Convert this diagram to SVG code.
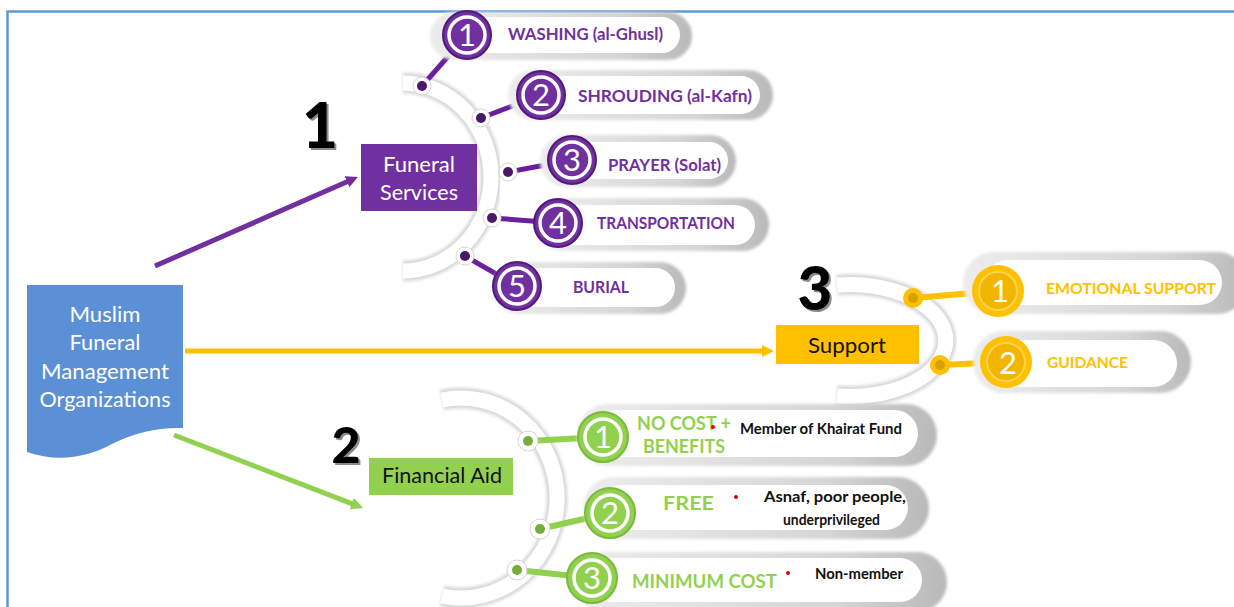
<svg xmlns="http://www.w3.org/2000/svg" width="1234" height="607" viewBox="0 0 1234 607">
<defs>
<linearGradient id="pg" x1="0" y1="0" x2="1" y2="0">
<stop offset="0" stop-color="#ececec"/>
<stop offset="0.7" stop-color="#d6d6d6"/>
<stop offset="1" stop-color="#b9b9b9"/>
</linearGradient>
<filter id="soft" x="-10%" y="-20%" width="120%" height="140%">
<feGaussianBlur stdDeviation="1.5"/>
</filter>
<marker id="ap" markerUnits="userSpaceOnUse" markerWidth="14" markerHeight="14" refX="2" refY="6" orient="auto"><path d="M0,0 L12,6 L0,12 z" fill="#7030A0"/></marker>
<marker id="ay" markerUnits="userSpaceOnUse" markerWidth="14" markerHeight="14" refX="2" refY="6" orient="auto"><path d="M0,0 L12,6 L0,12 z" fill="#FFC000"/></marker>
<marker id="ag" markerUnits="userSpaceOnUse" markerWidth="14" markerHeight="14" refX="2" refY="6" orient="auto"><path d="M0,0 L12,6 L0,12 z" fill="#92D050"/></marker>
</defs>
<style>
.pt{font-family:Lato,"Open Sans","Liberation Sans",sans-serif;font-weight:700;fill:#7030A0;font-size:17px}
.yt{font-family:Lato,"Open Sans","Liberation Sans",sans-serif;font-weight:700;fill:#FFC000;font-size:16px}
.gt{font-family:Lato,"Open Sans","Liberation Sans",sans-serif;font-weight:700;fill:#92D050;font-size:18px}
.bt{font-family:Lato,"Open Sans","Liberation Sans",sans-serif;font-weight:700;fill:#111;font-size:14.5px}
.box{font-family:Lato,"Open Sans","Liberation Sans",sans-serif;font-weight:400;font-size:21px;text-anchor:middle}
.big{font-family:Lato,"Liberation Sans",sans-serif;font-weight:900;text-anchor:middle}
.num{font-family:Lato,"Open Sans","Liberation Sans",sans-serif;font-weight:400;font-size:31px;fill:#fff;text-anchor:middle}
.pg{fill:url(#pg);filter:url(#soft)}
.pw{fill:#fff}
.bandg{fill:none;stroke:#d9d9d9;stroke-width:21;filter:url(#soft)}
.band{fill:none;stroke:#fff;stroke-width:15}
.pc{fill:#7030A0;stroke:#531a7d;stroke-width:2}
.gc{fill:#92D050;stroke:#7cb83c;stroke-width:2}
.ring{fill:none;stroke:#fff;stroke-width:3.5}
.halo{fill:#fff;stroke:#d4d4d4;stroke-width:1}
.red{fill:#e00000}
</style>
<rect width="1234" height="607" fill="#fff"/>
<path d="M7.5,607 V11.5 H1234" fill="none" stroke="#5b9bd5" stroke-width="2.5"/>

<!-- arcs -->
<g id="arcs">
<path class="bandg" d="M403,83 A88,94 0 1 1 403,271"/>
<path class="band" d="M403,83 A88,94 0 1 1 403,271"/>
<path class="bandg" d="M837,285 A96,56 0 1 1 837,396"/>
<path class="band" d="M837,285 A96,56 0 1 1 837,396"/>
<path class="bandg" d="M442,400 A96,100 0 1 1 442,596"/>
<path class="band" d="M442,400 A96,100 0 1 1 442,596"/>
</g>

<!-- connectors -->
<g id="connectors" fill="none">
<line x1="155" y1="266" x2="348.8" y2="181" stroke="#7030A0" stroke-width="5" marker-end="url(#ap)"/>
<line x1="185" y1="351" x2="764" y2="351" stroke="#FFC000" stroke-width="5" marker-end="url(#ay)"/>
<line x1="174" y1="435" x2="353.7" y2="504.4" stroke="#92D050" stroke-width="5" marker-end="url(#ag)"/>
<g stroke="#6a1f9c" stroke-width="5">
<line x1="422" y1="86" x2="467" y2="35"/>
<line x1="481" y1="118" x2="541" y2="95"/>
<line x1="508" y1="172" x2="572" y2="160"/>
<line x1="492" y1="218" x2="558" y2="223"/>
<line x1="465" y1="256" x2="517" y2="286"/>
</g>
<g stroke="#FFC000" stroke-width="6">
<line x1="913" y1="298" x2="998" y2="291"/>
<line x1="940" y1="365" x2="1006" y2="362"/>
</g>
<g stroke="#92D050" stroke-width="6">
<line x1="528" y1="441" x2="603" y2="437"/>
<line x1="540" y1="529" x2="610" y2="513"/>
<line x1="517" y1="570" x2="592" y2="578"/>
</g>
</g>

<!-- main node -->
<g id="muslim-org">
<path d="M27,285 H183 V428 C160,427 135,432 112,444 C88,457 58,463 27,452 Z" fill="#5b8fd6"/>
<text class="box" fill="#fff" x="105" y="322" textLength="71" lengthAdjust="spacingAndGlyphs">Muslim</text>
<text class="box" fill="#fff" x="105" y="350" textLength="71" lengthAdjust="spacingAndGlyphs">Funeral</text>
<text class="box" fill="#fff" x="105" y="379" textLength="128" lengthAdjust="spacingAndGlyphs">Management</text>
<text class="box" fill="#fff" x="105" y="407" textLength="131" lengthAdjust="spacingAndGlyphs">Organizations</text>
</g>

<!-- big numbers -->
<g id="num1"><text class="big" x="322" y="150" font-size="62" fill="#8c8c8c">1</text><text class="big" x="320" y="148" font-size="62" fill="#000">1</text></g>
<g id="num2"><text class="big" x="348" y="465" font-size="50" fill="#8c8c8c">2</text><text class="big" x="346" y="463" font-size="50" fill="#000">2</text></g>
<g id="num3"><text class="big" x="817" y="312" font-size="60" fill="#8c8c8c">3</text><text class="big" x="815" y="310" font-size="60" fill="#000">3</text></g>

<!-- category boxes -->
<g id="funeral-services">
<rect x="361" y="144" width="116" height="67" fill="#7030A0"/>
<text class="box" fill="#fff" x="419" y="172" textLength="72" lengthAdjust="spacingAndGlyphs">Funeral</text>
<text class="box" fill="#fff" x="419" y="200" textLength="78" lengthAdjust="spacingAndGlyphs">Services</text>
</g>
<g id="support">
<rect x="776" y="325" width="143" height="39" fill="#FFC000"/>
<text class="box" fill="#111" x="847" y="353" textLength="78" lengthAdjust="spacingAndGlyphs">Support</text>
</g>
<g id="financial-aid">
<rect x="369" y="458" width="144" height="37" fill="#92D050"/>
<text class="box" fill="#111" x="442" y="483" textLength="120" lengthAdjust="spacingAndGlyphs">Financial Aid</text>
</g>

<!-- purple items -->
<g id="p1">
<rect class="pg" x="430" y="12" width="262" height="48" rx="24"/>
<rect class="pw" x="448" y="17" width="232" height="36" rx="18"/>
<circle class="halo" cx="422" cy="86" r="9"/><circle cx="422" cy="86" r="5" fill="#4a1868"/>
<circle class="pc" cx="467" cy="35" r="24"/><circle class="ring" cx="467" cy="35" r="18"/>
<text class="num" x="467" y="46">1</text>
<text class="pt" x="508" y="40" textLength="155" lengthAdjust="spacingAndGlyphs">WASHING (al-Ghusl)</text>
</g>
<g id="p2">
<rect class="pg" x="508" y="70" width="265" height="50" rx="25"/>
<rect class="pw" x="525" y="76" width="235" height="38" rx="19"/>
<circle class="halo" cx="481" cy="118" r="9"/><circle cx="481" cy="118" r="5" fill="#4a1868"/>
<circle class="pc" cx="541" cy="95" r="24"/><circle class="ring" cx="541" cy="95" r="18"/>
<text class="num" x="541" y="106">2</text>
<text class="pt" x="578" y="102" textLength="174" lengthAdjust="spacingAndGlyphs">SHROUDING (al-Kafn)</text>
</g>
<g id="p3">
<rect class="pg" x="540" y="135" width="196" height="52" rx="26"/>
<rect class="pw" x="555" y="142" width="173" height="37" rx="18.5"/>
<circle class="halo" cx="508" cy="172" r="9"/><circle cx="508" cy="172" r="5" fill="#4a1868"/>
<circle class="pc" cx="572" cy="160" r="24"/><circle class="ring" cx="572" cy="160" r="18"/>
<text class="num" x="572" y="171">3</text>
<text class="pt" x="608" y="171" textLength="113" lengthAdjust="spacingAndGlyphs">PRAYER (Solat)</text>
</g>
<g id="p4">
<rect class="pg" x="535" y="198" width="234" height="53" rx="26.5"/>
<rect class="pw" x="550" y="205" width="205" height="40" rx="20"/>
<circle class="halo" cx="492" cy="218" r="9"/><circle cx="492" cy="218" r="5" fill="#4a1868"/>
<circle class="pc" cx="558" cy="223" r="24"/><circle class="ring" cx="558" cy="223" r="18"/>
<text class="num" x="558" y="234">4</text>
<text class="pt" x="597" y="229" textLength="138" lengthAdjust="spacingAndGlyphs">TRANSPORTATION</text>
</g>
<g id="p5">
<rect class="pg" x="492" y="262" width="194" height="52" rx="26"/>
<rect class="pw" x="505" y="268" width="170" height="39" rx="19.5"/>
<circle class="halo" cx="465" cy="256" r="9"/><circle cx="465" cy="256" r="5" fill="#4a1868"/>
<circle class="pc" cx="517" cy="286" r="24"/><circle class="ring" cx="517" cy="286" r="18"/>
<text class="num" x="517" y="297">5</text>
<text class="pt" x="573" y="293" textLength="56" lengthAdjust="spacingAndGlyphs">BURIAL</text>
</g>

<!-- yellow items -->
<g id="y1">
<rect class="pg" x="963" y="252" width="285" height="62" rx="31"/>
<rect class="pw" x="985" y="260" width="237" height="45" rx="22.5"/>
<circle cx="913" cy="298" r="10" fill="#FFC000"/><circle cx="913" cy="298" r="5" fill="#d9a100"/>
<circle cx="998" cy="291" r="26" fill="#FFC000"/><circle cx="998" cy="291" r="19" fill="#f2b500" stroke="#ffd34f" stroke-width="2"/>
<text class="num" x="1000" y="302">1</text>
<text class="yt" x="1046" y="294" textLength="170" lengthAdjust="spacingAndGlyphs">EMOTIONAL SUPPORT</text>
</g>
<g id="y2">
<rect class="pg" x="973" y="331" width="218" height="62" rx="31"/>
<rect class="pw" x="995" y="340" width="182" height="47" rx="23.5"/>
<circle cx="940" cy="365" r="10" fill="#FFC000"/><circle cx="940" cy="365" r="5" fill="#d9a100"/>
<circle cx="1006" cy="362" r="26" fill="#FFC000"/><circle cx="1006" cy="362" r="19" fill="#f2b500" stroke="#ffd34f" stroke-width="2"/>
<text class="num" x="1008" y="374">2</text>
<text class="yt" x="1047" y="368" textLength="81" lengthAdjust="spacingAndGlyphs">GUIDANCE</text>
</g>

<!-- green items -->
<g id="g1">
<rect class="pg" x="577" y="404" width="360" height="62" rx="31"/>
<rect class="pw" x="592" y="410" width="326" height="47" rx="23.5"/>
<circle class="halo" cx="528" cy="441" r="10"/><circle cx="528" cy="441" r="5" fill="#74ad3d"/>
<circle class="gc" cx="603" cy="437" r="25"/><circle class="ring" cx="603" cy="437" r="18"/>
<text class="num" x="603" y="448">1</text>
<text class="gt" x="637" y="430" textLength="94" lengthAdjust="spacingAndGlyphs">NO COST +</text>
<text class="gt" x="643" y="453" textLength="82" lengthAdjust="spacingAndGlyphs">BENEFITS</text>
<circle class="red" cx="713" cy="427" r="2"/>
<text class="bt" x="740" y="434" textLength="162" lengthAdjust="spacingAndGlyphs">Member of Khairat Fund</text>
</g>
<g id="g2">
<rect class="pg" x="583" y="477" width="346" height="62" rx="31"/>
<rect class="pw" x="598" y="485" width="310" height="45" rx="22.5"/>
<circle class="halo" cx="540" cy="529" r="10"/><circle cx="540" cy="529" r="5" fill="#74ad3d"/>
<circle class="gc" cx="610" cy="513" r="25"/><circle class="ring" cx="610" cy="513" r="18"/>
<text class="num" x="610" y="524">2</text>
<text class="gt" x="663" y="510" font-size="23" textLength="51" lengthAdjust="spacingAndGlyphs">FREE</text>
<circle class="red" cx="736" cy="497" r="2"/>
<text class="bt" x="764" y="502" textLength="142" lengthAdjust="spacingAndGlyphs">Asnaf, poor people,</text>
<text class="bt" x="783" y="525" textLength="97" lengthAdjust="spacingAndGlyphs">underprivileged</text>
</g>
<g id="g3">
<rect class="pg" x="575" y="552" width="372" height="60" rx="30"/>
<rect class="pw" x="590" y="558" width="332" height="44" rx="22"/>
<circle class="halo" cx="517" cy="570" r="10"/><circle cx="517" cy="570" r="5" fill="#74ad3d"/>
<circle class="gc" cx="592" cy="578" r="25"/><circle class="ring" cx="592" cy="578" r="18"/>
<text class="num" x="592" y="589">3</text>
<text class="gt" x="632" y="588" textLength="145" lengthAdjust="spacingAndGlyphs">MINIMUM COST</text>
<circle class="red" cx="788" cy="573" r="2"/>
<text class="bt" x="815" y="579" textLength="88" lengthAdjust="spacingAndGlyphs">Non-member</text>
</g>
</svg>
